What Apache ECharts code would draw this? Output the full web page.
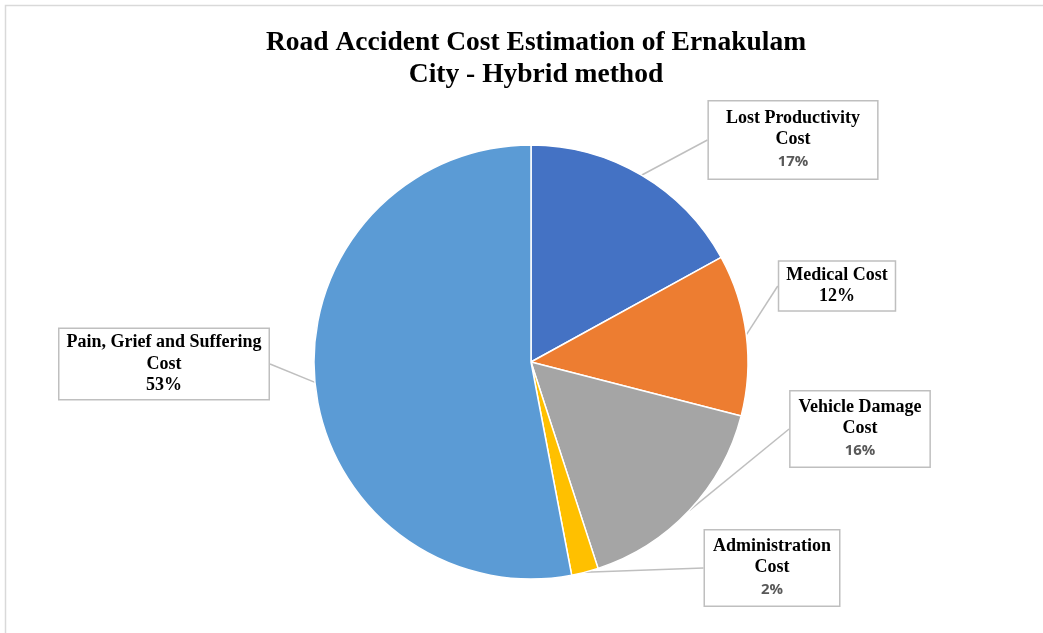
<!DOCTYPE html>
<html>
<head>
<meta charset="utf-8">
<script src="https://cdn.jsdelivr.net/npm/echarts@6/dist/echarts.min.js"></script>
<style>html,body{margin:0;padding:0;background:#fff}#c{width:1043px;height:633px}</style>
</head>
<body>
<div id="c"></div>
<script>
const titleText = 'Road Accident Cost Estimation of Ernakulam\nCity - Hybrid method';
const categories = ['Lost Productivity\nCost', 'Medical Cost', 'Vehicle Damage\nCost', 'Administration\nCost', 'Pain, Grief and Suffering\nCost'];
const values = [17, 12, 16, 2, 53];
const colors = ['#4472C4', '#ED7D31', '#A5A5A5', '#FFC000', '#5B9BD5'];
// label box centres (layout only)
const labelPos = [[793, 140], [837, 286], [860, 429], [772, 568], [164, 364]];
const labelPad = [[6, 17], [3, 7], [5, 8], [5, 8], [3, 7]];
const pctStyle = ['p', 'ps', 'p', 'p', 'ps'];

const chart = echarts.init(document.getElementById('c'));
chart.setOption({
  backgroundColor: '#fff',
  animation: false,
  title: {
    text: titleText,
    left: 531,
    textAlign: 'center',
    top: 22,
    textStyle: {fontFamily: 'Liberation Serif', fontWeight: 'bold', fontSize: 27.5, lineHeight: 32, color: '#000'}
  },
  graphic: [{
    type: 'rect', shape: {x: 5.5, y: 5.5, width: 1060, height: 660},
    style: {fill: 'none', stroke: '#D9D9D9', lineWidth: 1.5}, silent: true
  }],
  series: [{
    type: 'pie',
    center: [531, 362],
    radius: 217,
    startAngle: 90,
    clockwise: true,
    itemStyle: {borderColor: '#fff', borderWidth: 1.5},
    label: {
      show: true,
      position: 'outside',
      formatter: p => '{n|' + p.name.split('\n').join('}\n{n|') + '}\n{' + pctStyle[p.dataIndex] + '|' + p.value + '%}',
      backgroundColor: '#fff',
      borderColor: '#BFBFBF',
      borderWidth: 1.5,
      rich: {
        n: {fontFamily: 'Liberation Serif', fontWeight: 'bold', fontSize: 18, lineHeight: 21.5, color: '#000', align: 'center'},
        p: {fontFamily: 'Open Sans, Liberation Sans', fontWeight: 'bold', fontSize: 15, lineHeight: 22, color: '#595959', align: 'center'},
        ps: {fontFamily: 'Liberation Serif', fontWeight: 'bold', fontSize: 18, lineHeight: 21, color: '#000', align: 'center'}
      }
    },
    labelLine: {show: true, length: 10, length2: 0, lineStyle: {color: '#BFBFBF', width: 1.5}},
    labelLayout: p => ({x: labelPos[p.dataIndex][0], y: labelPos[p.dataIndex][1], align: 'center', verticalAlign: 'middle'}),
    data: categories.map((c, i) => ({
      name: c, value: values[i],
      itemStyle: {color: colors[i]},
      label: {padding: labelPad[i]}
    }))
  }]
});
</script>
</body>
</html>
